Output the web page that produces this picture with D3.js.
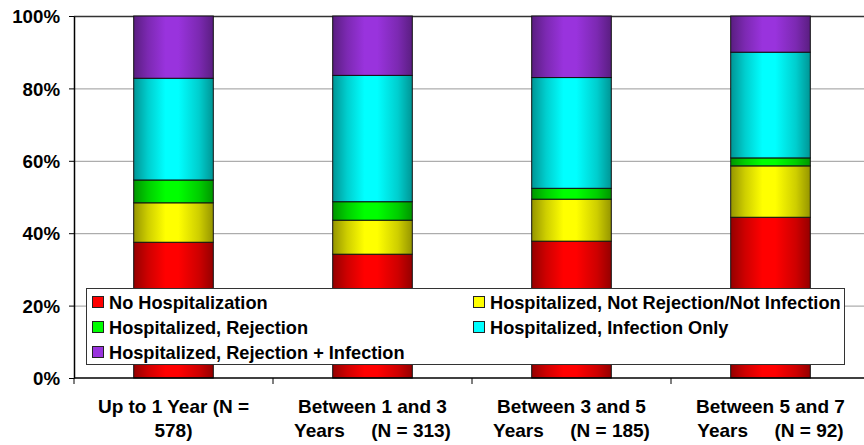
<!DOCTYPE html>
<html>
<head>
<meta charset="utf-8">
<script src="https://cdn.jsdelivr.net/npm/d3@7"></script>
<style>
  html, body { margin: 0; padding: 0; background: #fff; }
  svg { display: block; }
  text { font-family: "Liberation Sans", Arial, sans-serif; font-weight: bold; fill: #000; }
</style>
</head>
<body>
<svg id="chart" width="864" height="445"></svg>
<script>
// ---- data ----
const categories = ["Up to 1 Year (N = 578)", "Between 1 and 3 Years (N = 313)", "Between 3 and 5 Years (N = 185)", "Between 5 and 7 Years (N = 92)"];
const categoryLines = [
  ["Up to 1 Year (N =", "578)"],
  ["Between 1 and 3", "Years     (N = 313)"],
  ["Between 3 and 5", "Years     (N = 185)"],
  ["Between 5 and 7", "Years     (N = 92)"]
];
const seriesNames = ["No Hospitalization", "Hospitalized, Not Rejection/Not Infection", "Hospitalized, Rejection", "Hospitalized, Infection Only", "Hospitalized, Rejection + Infection"];
const noHospitalization = [37.5, 34.2, 37.8, 44.4];
const hospNotRejNotInf = [10.9, 9.4, 11.6, 14.2];
const hospRejection = [6.3, 5.1, 3.0, 2.2];
const hospInfectionOnly = [28.1, 34.9, 30.6, 29.2];
const hospRejPlusInf = [17.2, 16.4, 17.0, 10.0];
const yTicks = [0, 20, 40, 60, 80, 100];
const seriesColors = ["#ff0000", "#ffff00", "#00ff00", "#00ffff", "#9933dd"];
const legendOrder = [0, 1, 2, 3, 4];

const seriesValues = [noHospitalization, hospNotRejNotInf, hospRejection, hospInfectionOnly, hospRejPlusInf];
const table = categories.map((c, i) => {
  const row = { cat: c };
  seriesNames.forEach((s, k) => row[s] = seriesValues[k][i]);
  return row;
});

const svg = d3.select("#chart");
const mLeft = 74, mRight = 870, mTop = 16, mBottom = 378;

const x = d3.scaleBand().domain(categories).range([mLeft, mRight]).paddingInner(0.6).paddingOuter(0.3);
const xb = d3.scaleBand().domain(categories).range([mLeft, mRight]);
const y = d3.scaleLinear().domain([0, 100]).range([mBottom, mTop]);

// gradients
const defs = svg.append("defs");
seriesColors.forEach((c, k) => {
  const g = defs.append("linearGradient").attr("id", "g" + k).attr("x1", "0%").attr("x2", "100%").attr("y1", "0%").attr("y2", "0%");
  const dark = d3.color(c).darker(1.5);
  const mid = d3.color(c).darker(0.6);
  g.append("stop").attr("offset", "0%").attr("stop-color", dark);
  g.append("stop").attr("offset", "18%").attr("stop-color", mid);
  g.append("stop").attr("offset", "40%").attr("stop-color", c);
  g.append("stop").attr("offset", "56%").attr("stop-color", c);
  g.append("stop").attr("offset", "82%").attr("stop-color", mid);
  g.append("stop").attr("offset", "100%").attr("stop-color", dark);
});

// gridlines
svg.append("g").selectAll("line").data(yTicks.filter(t => t > 0)).join("line")
  .attr("x1", mLeft).attr("x2", 864)
  .attr("y1", d => y(d) + 0.5).attr("y2", d => y(d) + 0.5)
  .attr("stroke", d => d === 100 ? "#333" : "#999").attr("stroke-width", d => d === 100 ? 1.5 : 1);

// stacked bars
const stack = d3.stack().keys(seriesNames)(table);
const gBars = svg.append("g");
stack.forEach((layer, k) => {
  gBars.append("g").selectAll("rect").data(layer).join("rect")
    .attr("x", d => x(d.data.cat))
    .attr("width", x.bandwidth())
    .attr("y", d => y(d[1]))
    .attr("height", d => y(d[0]) - y(d[1]))
    .attr("fill", "url(#g" + k + ")")
    .attr("stroke", "#111").attr("stroke-width", 1);
});

// y axis
const yAxis = d3.axisLeft(y).tickValues(yTicks).tickFormat(d => d + "%").tickSize(5).tickSizeOuter(0);
const gy = svg.append("g").attr("transform", `translate(${mLeft},0)`).call(yAxis);
gy.select(".domain").attr("stroke", "#000").attr("stroke-width", 1.5);
gy.selectAll(".tick line").attr("stroke", "#000");
gy.selectAll(".tick text").attr("x", -14).attr("dy", "0.36em").style("font-size", "18.7px").style("font-family", "'Liberation Sans', Arial, sans-serif").style("font-weight", "bold");

// x axis baseline and ticks at band boundaries
svg.append("line").attr("x1", mLeft).attr("x2", 864).attr("y1", mBottom).attr("y2", mBottom).attr("stroke", "#000").attr("stroke-width", 1.5);
svg.append("g").selectAll("line").data(categories).join("line")
  .attr("x1", d => xb(d)).attr("x2", d => xb(d))
  .attr("y1", mBottom).attr("y2", mBottom + 6)
  .attr("stroke", "#000");

// x labels
const gx = svg.append("g");
categories.forEach((c, i) => {
  const cx = xb(c) + xb.bandwidth() / 2;
  const t = gx.append("text").attr("text-anchor", "middle").style("font-size", "19px").style("white-space", "pre");
  categoryLines[i].forEach((ln, j) => {
    t.append("tspan").attr("x", cx).attr("y", 413 + j * 24).text(ln);
  });
});

// legend
const lg = svg.append("g");
lg.append("rect").attr("x", 86.5).attr("y", 288.5).attr("width", 758).attr("height", 76)
  .attr("fill", "#fff").attr("stroke", "#333").attr("stroke-width", 1);
const colX = [92, 473];
const rowY = [302, 327, 352];
legendOrder.forEach((k, idx) => {
  const col = idx % 2, row = Math.floor(idx / 2);
  const gx0 = colX[col], gy0 = rowY[row];
  lg.append("rect").attr("x", gx0 + 0.5).attr("y", gy0 - 5.5).attr("width", 11).attr("height", 11)
    .attr("fill", seriesColors[k]).attr("stroke", "#222").attr("stroke-width", 1);
  lg.append("text").attr("x", gx0 + 17).attr("y", gy0).attr("dy", "0.36em")
    .style("font-size", "18.2px").text(seriesNames[k]);
});
</script>
</body>
</html>
